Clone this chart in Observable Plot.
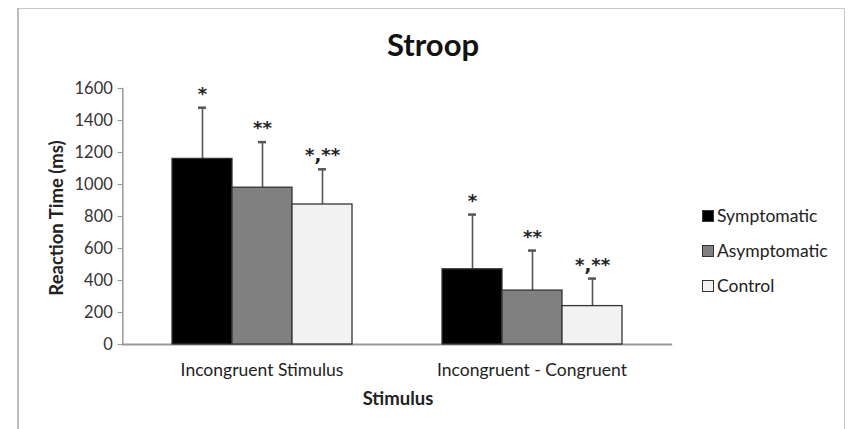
<!DOCTYPE html>
<html>
<head>
<meta charset="utf-8">
<script src="https://cdn.jsdelivr.net/npm/d3@7"></script>
<script src="https://cdn.jsdelivr.net/npm/@observablehq/plot@0.6"></script>
<style>
  html, body { margin: 0; padding: 0; background: #fff; }
  #chart {
    position: relative; width: 850px; height: 429px; overflow: hidden;
    font-family: Lato, "Open Sans", sans-serif; color: #222; background: #fff;
  }
  #chart .border {
    position: absolute; left: 17px; top: 8px; width: 828px; height: 440px;
    border: 1px solid #c8c8c8; border-left: 2px solid #bdbdbd; box-sizing: border-box;
  }
  #chart svg { position: absolute; left: 0; top: 0; }
  .title { position: absolute; left: 0; width: 866px; top: 25px; text-align: center;
    font-size: 31px; font-weight: 700; color: #111; }
  .ylabel { position: absolute; left: 56px; top: 218px; transform: translate(-50%, -50%) rotate(-90deg);
    font-size: 18.5px; font-weight: 700; white-space: nowrap; color: #222; }
  .xlabel { position: absolute; left: 398px; top: 398px; transform: translate(-50%, -50%);
    font-size: 18.5px; font-weight: 700; color: #222; }
  .legend { position: absolute; left: 702px; top: 198px; font-size: 17.5px; color: #222; }
  .legend .row { display: flex; align-items: center; height: 35px; }
  .legend .sw { width: 12px; height: 12px; box-sizing: border-box; border: 1px solid #333; margin-right: 3px; }
</style>
</head>
<body>
<div id="chart">
  <div class="border"></div>
  <div class="title">Stroop</div>
  <div class="ylabel">Reaction Time (ms)</div>
  <div class="xlabel">Stimulus</div>
  <div class="legend" id="legend"></div>
</div>
<script>
// Stimulus conditions (x groups) and participant groups (bars within each condition)
const conditions = ["Incongruent Stimulus", "Incongruent - Congruent"];
const groups = ["Symptomatic", "Asymptomatic", "Control"];
const groupColors = ["#000000", "#808080", "#f2f2f2"];

// Mean reaction time (ms) per condition, in the order of `groups`
const meanIncongruent = [1160, 980, 875];
const meanDifference = [470, 337, 240];

// Mean + standard deviation (top of the error bar)
const upperIncongruent = [1480, 1265, 1095];
const upperDifference = [812, 587, 412];

// Significance markers above each error bar
const significance = ["*", "**", "*,**"];

const yTicks = [0, 200, 400, 600, 800, 1000, 1200, 1400, 1600];

const means = [meanIncongruent, meanDifference];
const uppers = [upperIncongruent, upperDifference];
const rows = conditions.flatMap((c, i) =>
  groups.map((g, j) => ({condition: c, group: g, mean: means[i][j], upper: uppers[i][j], sig: significance[j]}))
);

// Layout: the y axis and the baseline span the whole plot area, not just the
// facet bands, so extend them by the outer padding of the fx scale.
const width = 850, height = 429;
const margin = {left: 122, right: 179, top: 88, bottom: 85};
const fxPaddingInner = 0.33, fxPaddingOuter = 0.18;
const fxStep = (width - margin.left - margin.right) / (conditions.length - fxPaddingInner + 2 * fxPaddingOuter);
const axisShift = fxPaddingOuter * fxStep;

const plot = Plot.plot({
  width,
  height,
  marginLeft: margin.left,
  marginRight: margin.right,
  marginTop: margin.top,
  marginBottom: margin.bottom,
  style: {fontFamily: "Lato, 'Open Sans', sans-serif", background: "transparent", color: "#222"},
  fx: {domain: conditions, paddingInner: fxPaddingInner, paddingOuter: fxPaddingOuter, label: null},
  x: {domain: groups, padding: 0, axis: null},
  y: {domain: [0, 1600], label: null},
  color: {domain: groups, range: groupColors},
  marks: [
    Plot.axisY({ticks: yTicks, tickFormat: d => String(d), tickSize: 5, tickPadding: 5, dx: -axisShift,
      fontSize: 16.5, label: null, stroke: "#999", fill: "#333"}),
    Plot.axisFx({anchor: "bottom", tickSize: 0, tickPadding: 19, fontSize: 17.5, label: null, fill: "#222"}),
    // baseline along the bottom and vertical axis line on the left
    Plot.frame({anchor: "bottom", facet: "super", insetLeft: -axisShift, insetRight: -axisShift, stroke: "#999", strokeWidth: 2}),
    Plot.frame({anchor: "left", facet: "super", insetLeft: -axisShift, stroke: "#999", strokeWidth: 1.5}),
    Plot.ruleX(rows, {fx: "condition", x: "group", y1: "mean", y2: "upper", stroke: "#555", strokeWidth: 1.6}),
    Plot.tickY(rows, {fx: "condition", x: "group", y: "upper", stroke: "#555", strokeWidth: 2.5, insetLeft: 26, insetRight: 26}),
    Plot.barY(rows, {fx: "condition", x: "group", y: "mean", fill: "group", stroke: "#333", strokeWidth: 1.3}),
    Plot.text(rows, {fx: "condition", x: "group", y: "upper", text: "sig", dy: -8, lineAnchor: "bottom",
      fontSize: 18, fontWeight: 700, fontFamily: "'DejaVu Sans', sans-serif", fill: "#222"})
  ]
});
document.getElementById("chart").appendChild(plot);

// Legend
const legend = document.getElementById("legend");
groups.forEach((g, i) => {
  const row = document.createElement("div");
  row.className = "row";
  const sw = document.createElement("span");
  sw.className = "sw";
  sw.style.background = groupColors[i];
  const label = document.createElement("span");
  label.textContent = g;
  row.appendChild(sw);
  row.appendChild(label);
  legend.appendChild(row);
});
</script>
</body>
</html>
